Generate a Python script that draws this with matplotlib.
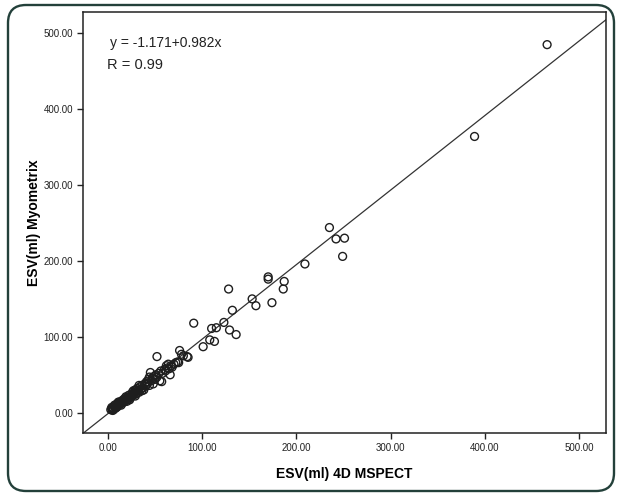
import matplotlib.pyplot as plt
from matplotlib.patches import FancyBboxPatch
from matplotlib.transforms import IdentityTransform
from matplotlib.ticker import FormatStrFormatter

# ESV values (ml)
esv_mspect = [
    3, 4, 5, 5, 6, 7, 8, 8, 9, 10, 10, 11, 12, 12, 13, 14, 15, 15, 16, 17,
    18, 18, 19, 20, 20, 21, 22, 22, 23, 24, 25, 25, 26, 27, 28, 29, 30, 30,
    31, 32, 33, 34, 35, 36, 37, 38, 39, 40, 41, 42, 43, 44, 45, 46, 47, 48,
    49, 50, 51, 52, 54, 55, 56, 57, 58, 60, 61, 62, 63, 64, 65, 66, 67, 68,
    70, 72, 74, 75, 76, 78, 80, 84, 85, 52,
    4, 6, 7, 9, 11, 14, 17, 19, 23, 27, 29, 33, 36, 41, 44, 48,
    91, 101, 108, 113, 110, 115, 123, 128, 129, 132, 136, 153, 157, 170, 170,
    174, 186, 187, 209, 235, 242, 249, 251, 389, 466,
]
esv_myometrix = [
    4, 5, 3, 6, 5, 8, 6, 9, 11, 8, 12, 10, 14, 11, 13, 12, 16, 13, 15, 14,
    18, 16, 17, 15, 20, 19, 18, 23, 21, 20, 24, 22, 27, 23, 26, 30, 25, 28,
    32, 29, 27, 34, 31, 36, 33, 30, 38, 35, 41, 39, 44, 36, 53, 42, 46, 38,
    48, 44, 50, 47, 52, 42, 55, 41, 52, 57, 55, 62, 59, 64, 58, 50, 62, 60,
    64, 66, 67, 66, 82, 77, 75, 74, 73, 74,
    7, 4, 10, 7, 14, 10, 18, 21, 17, 29, 22, 36, 29, 37, 47, 45,
    118, 87, 96, 94, 111, 112, 119, 163, 109, 135, 103, 150, 141, 179, 176,
    145, 163, 173, 196, 244, 229, 206, 230, 364, 485,
]

# fit line reported in the chart
intercept = -1.171
slope = 0.982

plt.rcParams['font.family'] = ['Liberation Sans', 'DejaVu Sans']

fig = plt.figure(figsize=(6.19, 4.95), dpi=100)
ax = fig.add_axes([83 / 619, 62 / 495, 523 / 619, 421 / 495])

ax.scatter(esv_mspect, esv_myometrix, s=32, facecolors='none',
           edgecolors='#1e1e1e', linewidths=1.0, zorder=3)
ax.axline((0, intercept), slope=slope, color='#333333', lw=0.9, zorder=2)

ax.set_xlim(-26.5, 528.5)
ax.set_ylim(-26.7, 528)
ax.set_xticks([0, 100, 200, 300, 400, 500])
ax.set_yticks([0, 100, 200, 300, 400, 500])
ax.xaxis.set_major_formatter(FormatStrFormatter('%.2f'))
ax.yaxis.set_major_formatter(FormatStrFormatter('%.2f'))
ax.tick_params(axis='both', labelsize=7, length=4, width=1, pad=3,
               colors='#222222')
for s in ax.spines.values():
    s.set_linewidth(1.1)
    s.set_color('#222222')

ax.set_xlabel('ESV(ml) 4D MSPECT', fontsize=10, fontweight='bold', labelpad=10)
ax.set_ylabel('ESV(ml) Myometrix', fontsize=10, fontweight='bold', labelpad=2)

ax.text(0.052, 0.926, 'y = -1.171+0.982x', transform=ax.transAxes,
        fontsize=10, va='center', ha='left', color='#222222')
ax.text(0.046, 0.874, 'R = 0.99', transform=ax.transAxes,
        fontsize=10.5, va='center', ha='left', color='#222222')

# rounded frame around the whole figure (pixel coords)
frame = FancyBboxPatch((8, 4), 606, 486, boxstyle='round,pad=0,rounding_size=18',
                       transform=IdentityTransform(), fill=False,
                       edgecolor='#23403a', linewidth=1.7)
fig.patches.append(frame)

fig.savefig('out.png', dpi=100)
